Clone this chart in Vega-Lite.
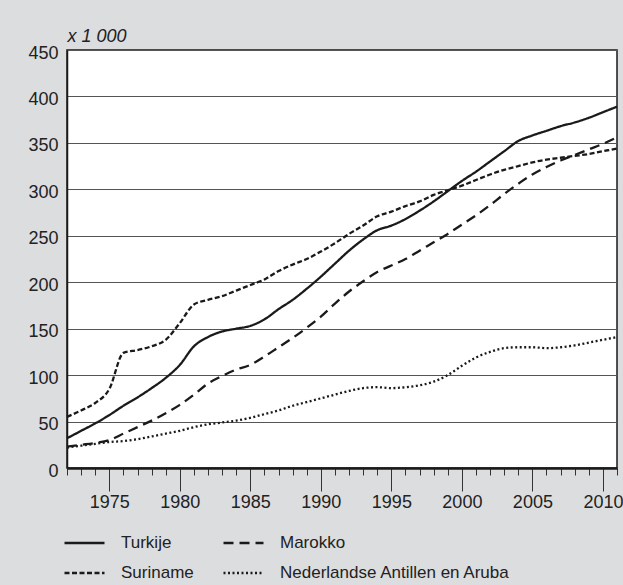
{
  "$schema": "https://vega.github.io/schema/vega-lite/v6.json",
  "width": 550,
  "height": 418,
  "autosize": {"type": "none"},
  "padding": {"left": 67, "top": 50, "right": 6, "bottom": 117},
  "background": "#dcdddf",
  "config": {
    "font": "Liberation Sans",
    "view": {"fill": "white", "stroke": "#1a1a1a", "strokeWidth": 1.5}
  },
  "data": {
    "values": [
      {"year": 1972, "country": "Turkije", "value": 32},
      {"year": 1973, "country": "Turkije", "value": 40},
      {"year": 1974, "country": "Turkije", "value": 48},
      {"year": 1975, "country": "Turkije", "value": 57},
      {"year": 1976, "country": "Turkije", "value": 67},
      {"year": 1977, "country": "Turkije", "value": 76},
      {"year": 1978, "country": "Turkije", "value": 86},
      {"year": 1979, "country": "Turkije", "value": 97},
      {"year": 1980, "country": "Turkije", "value": 111},
      {"year": 1981, "country": "Turkije", "value": 131},
      {"year": 1982, "country": "Turkije", "value": 141},
      {"year": 1983, "country": "Turkije", "value": 147},
      {"year": 1984, "country": "Turkije", "value": 150},
      {"year": 1985, "country": "Turkije", "value": 153},
      {"year": 1986, "country": "Turkije", "value": 160},
      {"year": 1987, "country": "Turkije", "value": 171},
      {"year": 1988, "country": "Turkije", "value": 181},
      {"year": 1989, "country": "Turkije", "value": 193},
      {"year": 1990, "country": "Turkije", "value": 206},
      {"year": 1991, "country": "Turkije", "value": 220},
      {"year": 1992, "country": "Turkije", "value": 234},
      {"year": 1993, "country": "Turkije", "value": 246},
      {"year": 1994, "country": "Turkije", "value": 256},
      {"year": 1995, "country": "Turkije", "value": 261},
      {"year": 1996, "country": "Turkije", "value": 268},
      {"year": 1997, "country": "Turkije", "value": 277},
      {"year": 1998, "country": "Turkije", "value": 287},
      {"year": 1999, "country": "Turkije", "value": 298},
      {"year": 2000, "country": "Turkije", "value": 309},
      {"year": 2001, "country": "Turkije", "value": 319},
      {"year": 2002, "country": "Turkije", "value": 330},
      {"year": 2003, "country": "Turkije", "value": 341},
      {"year": 2004, "country": "Turkije", "value": 352},
      {"year": 2005, "country": "Turkije", "value": 358},
      {"year": 2006, "country": "Turkije", "value": 363},
      {"year": 2007, "country": "Turkije", "value": 368},
      {"year": 2008, "country": "Turkije", "value": 372},
      {"year": 2009, "country": "Turkije", "value": 377},
      {"year": 2010, "country": "Turkije", "value": 383},
      {"year": 2011, "country": "Turkije", "value": 389},
      {"year": 1972, "country": "Marokko", "value": 23},
      {"year": 1973, "country": "Marokko", "value": 25},
      {"year": 1974, "country": "Marokko", "value": 27},
      {"year": 1975, "country": "Marokko", "value": 30},
      {"year": 1976, "country": "Marokko", "value": 37},
      {"year": 1977, "country": "Marokko", "value": 44},
      {"year": 1978, "country": "Marokko", "value": 51},
      {"year": 1979, "country": "Marokko", "value": 59},
      {"year": 1980, "country": "Marokko", "value": 68},
      {"year": 1981, "country": "Marokko", "value": 79},
      {"year": 1982, "country": "Marokko", "value": 91},
      {"year": 1983, "country": "Marokko", "value": 99},
      {"year": 1984, "country": "Marokko", "value": 106},
      {"year": 1985, "country": "Marokko", "value": 111},
      {"year": 1986, "country": "Marokko", "value": 120},
      {"year": 1987, "country": "Marokko", "value": 130},
      {"year": 1988, "country": "Marokko", "value": 140},
      {"year": 1989, "country": "Marokko", "value": 151},
      {"year": 1990, "country": "Marokko", "value": 163},
      {"year": 1991, "country": "Marokko", "value": 177},
      {"year": 1992, "country": "Marokko", "value": 190},
      {"year": 1993, "country": "Marokko", "value": 201},
      {"year": 1994, "country": "Marokko", "value": 211},
      {"year": 1995, "country": "Marokko", "value": 218},
      {"year": 1996, "country": "Marokko", "value": 225},
      {"year": 1997, "country": "Marokko", "value": 234},
      {"year": 1998, "country": "Marokko", "value": 243},
      {"year": 1999, "country": "Marokko", "value": 252},
      {"year": 2000, "country": "Marokko", "value": 262},
      {"year": 2001, "country": "Marokko", "value": 272},
      {"year": 2002, "country": "Marokko", "value": 283},
      {"year": 2003, "country": "Marokko", "value": 295},
      {"year": 2004, "country": "Marokko", "value": 306},
      {"year": 2005, "country": "Marokko", "value": 316},
      {"year": 2006, "country": "Marokko", "value": 324},
      {"year": 2007, "country": "Marokko", "value": 331},
      {"year": 2008, "country": "Marokko", "value": 337},
      {"year": 2009, "country": "Marokko", "value": 343},
      {"year": 2010, "country": "Marokko", "value": 349},
      {"year": 2011, "country": "Marokko", "value": 356},
      {"year": 1972, "country": "Suriname", "value": 55},
      {"year": 1973, "country": "Suriname", "value": 62},
      {"year": 1974, "country": "Suriname", "value": 70},
      {"year": 1975, "country": "Suriname", "value": 85},
      {"year": 1976, "country": "Suriname", "value": 124},
      {"year": 1977, "country": "Suriname", "value": 127},
      {"year": 1978, "country": "Suriname", "value": 131},
      {"year": 1979, "country": "Suriname", "value": 138},
      {"year": 1980, "country": "Suriname", "value": 156},
      {"year": 1981, "country": "Suriname", "value": 176},
      {"year": 1982, "country": "Suriname", "value": 181},
      {"year": 1983, "country": "Suriname", "value": 185},
      {"year": 1984, "country": "Suriname", "value": 191},
      {"year": 1985, "country": "Suriname", "value": 197},
      {"year": 1986, "country": "Suriname", "value": 203},
      {"year": 1987, "country": "Suriname", "value": 212},
      {"year": 1988, "country": "Suriname", "value": 219},
      {"year": 1989, "country": "Suriname", "value": 225},
      {"year": 1990, "country": "Suriname", "value": 233},
      {"year": 1991, "country": "Suriname", "value": 242},
      {"year": 1992, "country": "Suriname", "value": 252},
      {"year": 1993, "country": "Suriname", "value": 261},
      {"year": 1994, "country": "Suriname", "value": 271},
      {"year": 1995, "country": "Suriname", "value": 276},
      {"year": 1996, "country": "Suriname", "value": 282},
      {"year": 1997, "country": "Suriname", "value": 287},
      {"year": 1998, "country": "Suriname", "value": 294},
      {"year": 1999, "country": "Suriname", "value": 299},
      {"year": 2000, "country": "Suriname", "value": 304},
      {"year": 2001, "country": "Suriname", "value": 310},
      {"year": 2002, "country": "Suriname", "value": 316},
      {"year": 2003, "country": "Suriname", "value": 321},
      {"year": 2004, "country": "Suriname", "value": 325},
      {"year": 2005, "country": "Suriname", "value": 329},
      {"year": 2006, "country": "Suriname", "value": 332},
      {"year": 2007, "country": "Suriname", "value": 334},
      {"year": 2008, "country": "Suriname", "value": 336},
      {"year": 2009, "country": "Suriname", "value": 338},
      {"year": 2010, "country": "Suriname", "value": 341},
      {"year": 2011, "country": "Suriname", "value": 344},
      {"year": 1972, "country": "Nederlandse Antillen en Aruba", "value": 22},
      {"year": 1973, "country": "Nederlandse Antillen en Aruba", "value": 24},
      {"year": 1974, "country": "Nederlandse Antillen en Aruba", "value": 26},
      {"year": 1975, "country": "Nederlandse Antillen en Aruba", "value": 28},
      {"year": 1976, "country": "Nederlandse Antillen en Aruba", "value": 29},
      {"year": 1977, "country": "Nederlandse Antillen en Aruba", "value": 31},
      {"year": 1978, "country": "Nederlandse Antillen en Aruba", "value": 34},
      {"year": 1979, "country": "Nederlandse Antillen en Aruba", "value": 37},
      {"year": 1980, "country": "Nederlandse Antillen en Aruba", "value": 40},
      {"year": 1981, "country": "Nederlandse Antillen en Aruba", "value": 44},
      {"year": 1982, "country": "Nederlandse Antillen en Aruba", "value": 47},
      {"year": 1983, "country": "Nederlandse Antillen en Aruba", "value": 49},
      {"year": 1984, "country": "Nederlandse Antillen en Aruba", "value": 51},
      {"year": 1985, "country": "Nederlandse Antillen en Aruba", "value": 54},
      {"year": 1986, "country": "Nederlandse Antillen en Aruba", "value": 58},
      {"year": 1987, "country": "Nederlandse Antillen en Aruba", "value": 62},
      {"year": 1988, "country": "Nederlandse Antillen en Aruba", "value": 67},
      {"year": 1989, "country": "Nederlandse Antillen en Aruba", "value": 71},
      {"year": 1990, "country": "Nederlandse Antillen en Aruba", "value": 75},
      {"year": 1991, "country": "Nederlandse Antillen en Aruba", "value": 79},
      {"year": 1992, "country": "Nederlandse Antillen en Aruba", "value": 83},
      {"year": 1993, "country": "Nederlandse Antillen en Aruba", "value": 86},
      {"year": 1994, "country": "Nederlandse Antillen en Aruba", "value": 87},
      {"year": 1995, "country": "Nederlandse Antillen en Aruba", "value": 86},
      {"year": 1996, "country": "Nederlandse Antillen en Aruba", "value": 87},
      {"year": 1997, "country": "Nederlandse Antillen en Aruba", "value": 89},
      {"year": 1998, "country": "Nederlandse Antillen en Aruba", "value": 93},
      {"year": 1999, "country": "Nederlandse Antillen en Aruba", "value": 100},
      {"year": 2000, "country": "Nederlandse Antillen en Aruba", "value": 110},
      {"year": 2001, "country": "Nederlandse Antillen en Aruba", "value": 119},
      {"year": 2002, "country": "Nederlandse Antillen en Aruba", "value": 125},
      {"year": 2003, "country": "Nederlandse Antillen en Aruba", "value": 129},
      {"year": 2004, "country": "Nederlandse Antillen en Aruba", "value": 130},
      {"year": 2005, "country": "Nederlandse Antillen en Aruba", "value": 130},
      {"year": 2006, "country": "Nederlandse Antillen en Aruba", "value": 129},
      {"year": 2007, "country": "Nederlandse Antillen en Aruba", "value": 130},
      {"year": 2008, "country": "Nederlandse Antillen en Aruba", "value": 132},
      {"year": 2009, "country": "Nederlandse Antillen en Aruba", "value": 135},
      {"year": 2010, "country": "Nederlandse Antillen en Aruba", "value": 138},
      {"year": 2011, "country": "Nederlandse Antillen en Aruba", "value": 141}
    ]
  },
  "mark": {"type": "line", "color": "#1a1a1a", "strokeWidth": 2.3, "interpolate": "monotone"},
  "encoding": {
    "x": {
      "field": "year",
      "type": "quantitative",
      "scale": {"domain": [1972, 2011], "nice": false, "zero": false},
      "axis": {
        "title": null,
        "values": [1972,1973,1974,1975,1976,1977,1978,1979,1980,1981,1982,1983,1984,1985,1986,1987,1988,1989,1990,1991,1992,1993,1994,1995,1996,1997,1998,1999,2000,2001,2002,2003,2004,2005,2006,2007,2008,2009,2010,2011],
        "labelExpr": "datum.value % 5 == 0 ? '' + datum.value : ''",
        "labelOverlap": false,
        "labelFlush": false,
        "labelBound": false,
        "labelFontSize": 18,
        "labelColor": "#222222",
        "labelPadding": 2,
        "tickSize": {"condition": {"test": "datum.value % 5 == 0", "value": 23}, "value": 7},
        "tickColor": "#333333",
        "tickWidth": 1,
        "domainColor": "#1a1a1a",
        "domainWidth": 2.5,
        "grid": false
      }
    },
    "y": {
      "field": "value",
      "type": "quantitative",
      "scale": {"domain": [0, 450], "nice": false},
      "axis": {
        "title": "x 1 000",
        "titleAngle": 0,
        "titleX": 0,
        "titleY": -9,
        "titleAlign": "left",
        "titleBaseline": "alphabetic",
        "titleFontStyle": "italic",
        "titleFontWeight": "normal",
        "titleFontSize": 18,
        "titleColor": "#222222",
        "values": [0, 50, 100, 150, 200, 250, 300, 350, 400, 450],
        "ticks": false,
        "labelPadding": 9,
        "labelOffset": 3,
        "labelFontSize": 18,
        "labelColor": "#222222",
        "labelFlush": false,
        "labelBound": false,
        "domainColor": "#1a1a1a",
        "domainWidth": 1.5,
        "grid": true,
        "gridColor": "#555555",
        "gridWidth": 1
      }
    },
    "strokeDash": {
      "field": "country",
      "type": "nominal",
      "scale": {
        "domain": ["Turkije", "Suriname", "Marokko", "Nederlandse Antillen en Aruba"],
        "range": [[1, 0], [5, 2.5], [10, 6], [2, 2.5]]
      },
      "legend": {
        "title": null,
        "orient": "none",
        "legendX": -4,
        "legendY": 483,
        "columns": 2,
        "padding": 0,
        "symbolType": "stroke",
        "symbolSize": 1600,
        "symbolStrokeWidth": 2.5,
        "symbolStrokeColor": "#1a1a1a",
        "labelFontSize": 17,
        "labelColor": "#222222",
        "labelOffset": 15,
        "labelLimit": 400,
        "clipHeight": 20,
        "rowPadding": 10,
        "columnPadding": 28
      }
    }
  }
}
